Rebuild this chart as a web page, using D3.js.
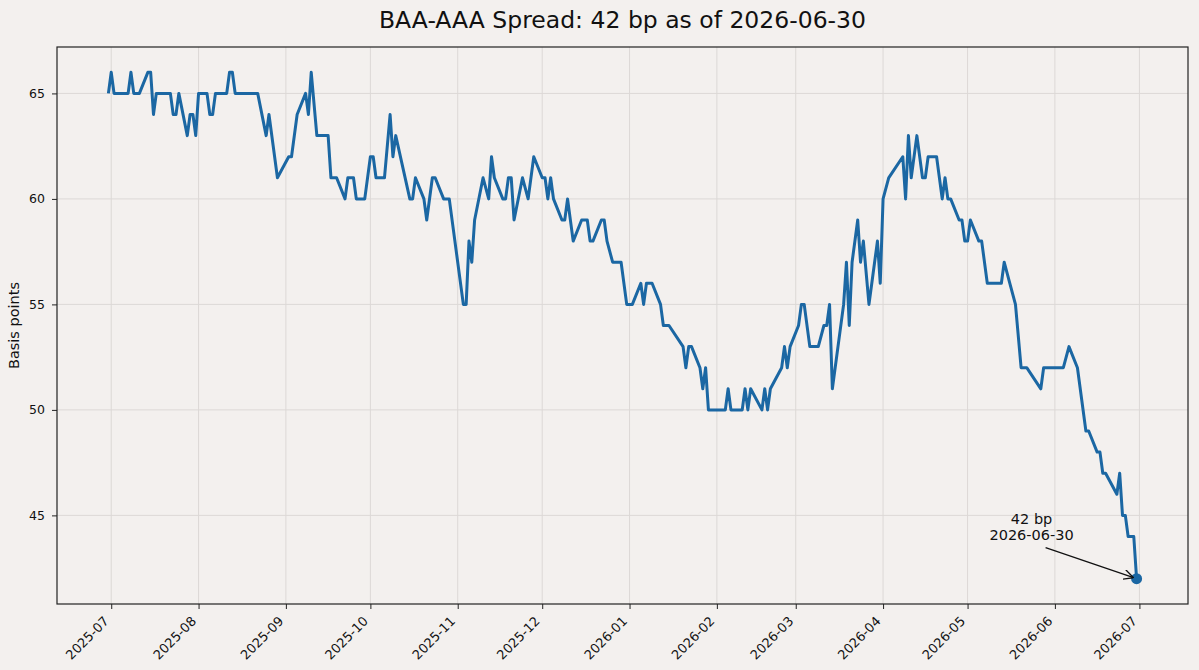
<!DOCTYPE html>
<html>
<head>
<meta charset="utf-8">
<script src="https://cdn.jsdelivr.net/npm/d3@7"></script>
<style>
  html, body { margin: 0; padding: 0; background: #f3f0ee; }
  svg { display: block; }
  text { font-family: "DejaVu Sans", sans-serif; }
</style>
</head>
<body>
<svg id="chart"></svg>
<script>
// vertices (date, spread in bp)
var dates = [
  "2025-06-30","2025-07-01","2025-07-02","2025-07-07","2025-07-08","2025-07-09","2025-07-11","2025-07-14","2025-07-15","2025-07-16",
  "2025-07-17","2025-07-22","2025-07-23","2025-07-24","2025-07-25","2025-07-28","2025-07-29","2025-07-30","2025-07-31","2025-08-01",
  "2025-08-04","2025-08-05","2025-08-06","2025-08-07","2025-08-11","2025-08-12","2025-08-13","2025-08-14","2025-08-22","2025-08-25",
  "2025-08-26","2025-08-29","2025-09-02","2025-09-03","2025-09-05","2025-09-08","2025-09-09","2025-09-10","2025-09-12","2025-09-16",
  "2025-09-17","2025-09-19","2025-09-22","2025-09-23","2025-09-25","2025-09-26","2025-09-29","2025-10-01","2025-10-02","2025-10-03",
  "2025-10-06","2025-10-08","2025-10-09","2025-10-10","2025-10-15","2025-10-16","2025-10-17","2025-10-20","2025-10-21","2025-10-23",
  "2025-10-24","2025-10-27","2025-10-29","2025-11-03","2025-11-04","2025-11-05","2025-11-06","2025-11-07","2025-11-10","2025-11-12",
  "2025-11-13","2025-11-14","2025-11-17","2025-11-18","2025-11-19","2025-11-20","2025-11-21","2025-11-24","2025-11-26","2025-11-28",
  "2025-12-01","2025-12-02","2025-12-03","2025-12-04","2025-12-05","2025-12-08","2025-12-09","2025-12-10","2025-12-12","2025-12-15",
  "2025-12-17","2025-12-18","2025-12-19","2025-12-22","2025-12-23","2025-12-24","2025-12-26","2025-12-29","2025-12-31","2026-01-02",
  "2026-01-05","2026-01-06","2026-01-07","2026-01-09","2026-01-12","2026-01-13","2026-01-15","2026-01-20","2026-01-21","2026-01-22",
  "2026-01-23","2026-01-26","2026-01-27","2026-01-28","2026-01-29","2026-02-04","2026-02-05","2026-02-06","2026-02-10","2026-02-11",
  "2026-02-12","2026-02-13","2026-02-17","2026-02-18","2026-02-19","2026-02-20","2026-02-24","2026-02-25","2026-02-26","2026-02-27",
  "2026-03-02","2026-03-03","2026-03-04","2026-03-06","2026-03-09","2026-03-11","2026-03-12","2026-03-13","2026-03-14","2026-03-18",
  "2026-03-19","2026-03-20","2026-03-21","2026-03-23","2026-03-24","2026-03-25","2026-03-27","2026-03-28","2026-03-30","2026-03-31",
  "2026-04-01","2026-04-03","2026-04-08","2026-04-09","2026-04-10","2026-04-11","2026-04-13","2026-04-15","2026-04-16","2026-04-17",
  "2026-04-20","2026-04-22","2026-04-23","2026-04-24","2026-04-25","2026-04-28","2026-04-29","2026-04-30","2026-05-01","2026-05-02",
  "2026-05-05","2026-05-06","2026-05-08","2026-05-13","2026-05-14","2026-05-16","2026-05-18","2026-05-20","2026-05-22","2026-05-27",
  "2026-05-28","2026-06-04","2026-06-06","2026-06-09","2026-06-12","2026-06-13","2026-06-16","2026-06-17","2026-06-18","2026-06-19",
  "2026-06-23","2026-06-24","2026-06-25","2026-06-26","2026-06-27","2026-06-29","2026-06-30"
];
var spread = [
  65,66,65,65,66,65,65,66,66,64,
  65,65,64,64,65,63,64,64,63,65,
  65,64,64,65,65,66,66,65,65,63,
  64,61,62,62,64,65,64,66,63,63,
  61,61,60,61,61,60,60,62,62,61,
  61,64,62,63,60,60,61,60,59,61,
  61,60,60,55,55,58,57,59,61,60,
  62,61,60,60,61,61,59,61,60,62,
  61,61,60,61,60,59,59,60,58,59,
  59,58,58,59,59,58,57,57,55,55,
  56,55,56,56,55,54,54,53,52,53,
  53,52,51,52,50,50,51,50,50,51,
  50,51,50,51,50,51,52,53,52,53,
  54,55,55,53,53,54,54,55,51,55,
  57,54,57,59,57,58,55,56,58,56,
  60,61,62,60,63,61,63,61,61,62,
  62,60,61,60,60,59,59,58,58,59,
  58,58,56,56,57,56,55,52,52,51,
  52,52,53,52,49,49,48,48,47,47,
  46,47,45,45,44,44,42
];
var yTicks = [45, 50, 55, 60, 65];
var titleText = "BAA-AAA Spread: 42 bp as of 2026-06-30";
var yLabel = "Basis points";
var noteLines = ["42 bp", "2026-06-30"];

var W = 1199, H = 670;
var margin = {top: 47, right: 11, bottom: 66, left: 57};
var width = W - margin.left - margin.right,
    height = H - margin.top - margin.bottom;

var parseDate = d3.timeParse("%Y-%m-%d");
var data = dates.map(function(d, i) { return {date: parseDate(d), value: spread[i]}; });

// matplotlib-like 5% padding on both axes
var tExt = d3.extent(data, function(d) { return d.date; });
var tPad = (tExt[1] - tExt[0]) * 0.05;
var x = d3.scaleTime()
    .domain([new Date(+tExt[0] - tPad), new Date(+tExt[1] + tPad)])
    .range([0, width]);
var vExt = d3.extent(data, function(d) { return d.value; });
var vPad = (vExt[1] - vExt[0]) * 0.05;
var y = d3.scaleLinear()
    .domain([vExt[0] - vPad, vExt[1] + vPad])
    .range([height, 0]);

var svg = d3.select("#chart").attr("width", W).attr("height", H);
svg.append("rect").attr("width", W).attr("height", H).attr("fill", "#f3f0ee");

var g = svg.append("g").attr("transform", "translate(" + margin.left + "," + margin.top + ")");

var monthTicks = d3.timeMonth.range(parseDate("2025-07-01"), parseDate("2026-07-02"));

// grid
g.append("g").selectAll("line").data(monthTicks).enter().append("line")
    .attr("x1", function(d) { return x(d); }).attr("x2", function(d) { return x(d); })
    .attr("y1", 0).attr("y2", height)
    .attr("stroke", "#dcd8d6").attr("stroke-width", 1);
g.append("g").selectAll("line").data(yTicks).enter().append("line")
    .attr("x1", 0).attr("x2", width)
    .attr("y1", function(d) { return y(d); }).attr("y2", function(d) { return y(d); })
    .attr("stroke", "#dcd8d6").attr("stroke-width", 1);

// line
var valueline = d3.line()
    .x(function(d) { return x(d.date); })
    .y(function(d) { return y(d.value); });
g.append("path").datum(data)
    .attr("fill", "none")
    .attr("stroke", "#1b67a3")
    .attr("stroke-width", 3)
    .attr("stroke-linejoin", "round")
    .attr("d", valueline);

// last point + annotation
var last = data[data.length - 1];
g.append("circle")
    .attr("cx", x(last.date)).attr("cy", y(last.value)).attr("r", 5.5)
    .attr("fill", "#1b67a3");

var noteX = x(last.date) - 105, noteY = y(last.value) - 55;
var note = g.append("text").attr("text-anchor", "middle").attr("font-size", 14.5).attr("fill", "#111");
noteLines.forEach(function(t, i) {
  note.append("tspan").attr("x", noteX).attr("y", noteY + i * 16).text(t);
});
svg.append("defs").append("marker")
    .attr("id", "arr").attr("viewBox", "0 0 10 10").attr("refX", 10).attr("refY", 5)
    .attr("markerWidth", 10).attr("markerHeight", 10).attr("markerUnits", "userSpaceOnUse")
    .attr("orient", "auto")
  .append("path").attr("d", "M0,0 L10,5 L0,10").attr("fill", "none").attr("stroke", "#111").attr("stroke-width", 1.3);
g.append("line")
    .attr("x1", noteX + 14).attr("y1", noteY + 24)
    .attr("x2", x(last.date) - 3).attr("y2", y(last.value) - 1)
    .attr("stroke", "#111").attr("stroke-width", 1.3)
    .attr("marker-end", "url(#arr)");

// axes
var xAxis = g.append("g")
    .attr("transform", "translate(0," + height + ")")
    .call(d3.axisBottom(x).tickValues(monthTicks).tickFormat(d3.timeFormat("%Y-%m")).tickSizeOuter(0).tickSize(5));
xAxis.selectAll("text")
    .attr("font-size", 13).attr("fill", "#111")
    .attr("text-anchor", "end")
    .attr("x", 0).attr("y", 0).attr("dx", 0).attr("dy", 0)
    .attr("transform", "translate(-2,18) rotate(-45)");
xAxis.select(".domain").remove();

var yAxis = g.append("g")
    .call(d3.axisLeft(y).tickValues(yTicks).tickSizeOuter(0).tickSize(5).tickPadding(7));
yAxis.selectAll("text").attr("font-size", 12.5).attr("fill", "#111");
yAxis.select(".domain").remove();
g.selectAll(".tick line").attr("stroke", "#222");

// frame
g.append("rect").attr("width", width).attr("height", height)
    .attr("fill", "none").attr("stroke", "#222").attr("stroke-width", 1.2);

svg.append("text")
    .attr("x", margin.left + width / 2).attr("y", 28)
    .attr("text-anchor", "middle").attr("font-size", 23.5).attr("fill", "#111")
    .text(titleText);

svg.append("text")
    .attr("transform", "translate(19," + (margin.top + height / 2) + ") rotate(-90)")
    .attr("text-anchor", "middle").attr("font-size", 14.5).attr("fill", "#111")
    .text(yLabel);
</script>
</body>
</html>
